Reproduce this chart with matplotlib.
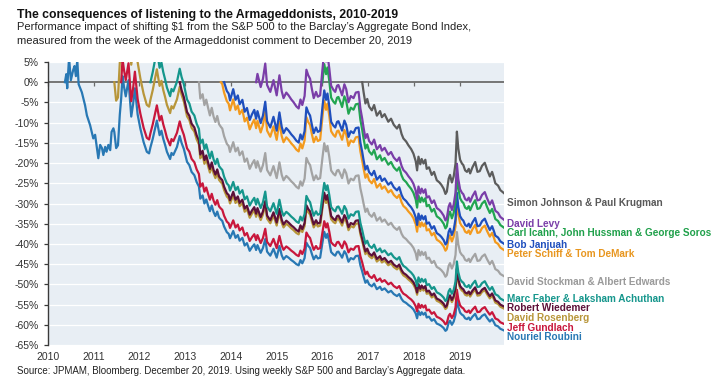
import numpy as np
import matplotlib
matplotlib.use("Agg")
import matplotlib.pyplot as plt

plt.rcParams['font.family'] = ['Liberation Sans', 'DejaVu Sans']

# Weekly-sampled dates (decimal years) and the Nouriel Roubini line (% impact since May 2010)
dates = [2010.37, 2010.40, 2010.42, 2010.46, 2010.50, 2010.55, 2010.58, 2010.61, 2010.64, 2010.67,
         2010.74, 2010.81, 2010.85, 2010.92, 2010.99, 2011.03, 2011.07, 2011.10, 2011.14, 2011.18,
         2011.21, 2011.25, 2011.28, 2011.32, 2011.36, 2011.39, 2011.43, 2011.45, 2011.49, 2011.53,
         2011.57, 2011.60, 2011.63, 2011.66, 2011.70, 2011.76, 2011.82, 2011.86, 2011.90, 2011.96,
         2012.02, 2012.09, 2012.16, 2012.21, 2012.24, 2012.29, 2012.33, 2012.38, 2012.44, 2012.48,
         2012.52, 2012.56, 2012.60, 2012.67, 2012.70, 2012.74, 2012.82, 2012.88, 2012.92, 2012.97,
         2013.04, 2013.09, 2013.14, 2013.20, 2013.25, 2013.30, 2013.33, 2013.38, 2013.42, 2013.46,
         2013.50, 2013.54, 2013.58, 2013.62, 2013.66, 2013.70, 2013.74, 2013.78, 2013.81, 2013.85,
         2013.91, 2013.95, 2013.98, 2014.05, 2014.10, 2014.15, 2014.19, 2014.25, 2014.30, 2014.35,
         2014.41, 2014.46, 2014.51, 2014.55, 2014.58, 2014.65, 2014.70, 2014.75, 2014.79, 2014.86,
         2014.93, 2015.00, 2015.06, 2015.11, 2015.15, 2015.21, 2015.26, 2015.32, 2015.37, 2015.43,
         2015.48, 2015.52, 2015.56, 2015.61, 2015.65, 2015.69, 2015.73, 2015.77, 2015.81, 2015.86,
         2015.90, 2015.95, 2016.00, 2016.04, 2016.08, 2016.11, 2016.15, 2016.19, 2016.24, 2016.28,
         2016.32, 2016.35, 2016.40, 2016.43, 2016.48, 2016.52, 2016.57, 2016.62, 2016.68, 2016.73,
         2016.79, 2016.83, 2016.87, 2016.90, 2016.94, 2016.98, 2017.02, 2017.08, 2017.13, 2017.19,
         2017.26, 2017.30, 2017.36, 2017.44, 2017.50, 2017.56, 2017.63, 2017.68, 2017.73, 2017.77,
         2017.83, 2017.88, 2017.94, 2017.99, 2018.04, 2018.07, 2018.10, 2018.14, 2018.17, 2018.21,
         2018.25, 2018.28, 2018.33, 2018.39, 2018.44, 2018.50, 2018.56, 2018.60, 2018.65, 2018.69,
         2018.72, 2018.76, 2018.79, 2018.83, 2018.87, 2018.91, 2018.94, 2018.97, 2019.01, 2019.05,
         2019.08, 2019.12, 2019.16, 2019.20, 2019.23, 2019.28, 2019.34, 2019.39, 2019.44, 2019.49,
         2019.55, 2019.60, 2019.66, 2019.71, 2019.75, 2019.78, 2019.84, 2019.89, 2019.93, 2019.97]

roubini = [0.0, 2.0, -1.5, 6.0, 0.5, 3.0, 4.0, 1.5, 5.5, -0.5,
           -2.5, -5.7, -8.2, -10.6, -13.9, -13.0, -16.3, -18.8, -15.5, -16.3,
           -18.0, -16.0, -17.2, -15.5, -16.8, -12.3, -11.4, -12.3, -16.3, -15.6,
           -8.0, -4.0, 1.5, -1.0, -3.5, 0.5, -8.5, -5.5, -1.5, -8.0,
           -11.5, -14.8, -17.2, -17.6, -16.1, -14.0, -12.0, -9.5, -13.1, -12.0,
           -14.0, -15.5, -17.2, -19.0, -17.5, -18.0, -16.0, -13.3, -15.0, -16.5,
           -19.7, -20.5, -22.2, -23.0, -24.7, -25.8, -28.8, -28.0, -30.0, -29.0,
           -30.5, -31.9, -30.5, -32.1, -33.1, -32.0, -33.5, -34.0, -34.3, -35.7,
           -37.1, -37.5, -38.6, -36.8, -38.5, -37.8, -39.2, -38.5, -40.4, -39.8,
           -41.7, -40.8, -40.1, -41.5, -40.3, -42.2, -41.0, -38.8, -41.9, -42.9,
           -41.2, -43.4, -40.5, -42.8, -43.8, -43.0, -43.4, -44.0, -44.4, -45.0,
           -45.3, -44.0, -44.8, -43.5, -39.7, -40.5, -41.0, -42.5, -43.8, -42.9,
           -43.6, -43.4, -39.7, -37.0, -38.5, -37.5, -39.5, -42.0, -42.6, -42.9,
           -42.0, -41.9, -42.8, -43.4, -41.8, -42.5, -44.4, -43.5, -43.8, -43.0,
           -42.9, -45.3, -46.8, -48.1, -49.6, -49.0, -50.0, -50.5, -49.8, -51.2,
           -50.6, -51.4, -51.0, -52.0, -51.6, -52.4, -52.9, -52.4, -53.6, -54.2,
           -54.6, -55.1, -55.6, -56.2, -57.2, -58.4, -56.6, -57.6, -56.9, -57.5,
           -57.0, -58.2, -58.0, -59.0, -58.6, -59.7, -60.0, -60.3, -60.8, -61.5,
           -61.2, -59.5, -59.0, -60.0, -59.2, -57.5, -53.3, -55.5, -57.0, -57.5,
           -57.7, -58.4, -58.6, -58.2, -58.8, -58.0, -57.3, -58.6, -58.5, -57.8,
           -57.4, -58.3, -59.2, -58.6, -59.4, -60.1, -60.4, -61.0, -61.2, -61.4]

# Each Armageddonist and the week of the comment (decimal year)
names = ["Nouriel Roubini", "Jeff Gundlach", "David Rosenberg", "Robert Wiedemer",
         "Marc Faber & Laksham Achuthan", "David Stockman & Albert Edwards",
         "Peter Schiff & Tom DeMark", "Bob Janjuah", "Carl Icahn, John Hussman & George Soros",
         "David Levy", "Simon Johnson & Paul Krugman"]
comment_dates = [2010.37, 2011.60, 2011.45, 2012.88, 2012.24, 2013.30,
                 2013.78, 2013.85, 2016.00, 2014.55, 2016.87]
line_colors = ["#2878b4", "#c8173c", "#b8963a", "#5c1038", "#15968c", "#a3a3a3",
               "#f39a1e", "#1f4fbd", "#22a551", "#7a3ea8", "#5c5c5c"]
label_colors = ["#2878b4", "#c8173c", "#b8963a", "#5c1038", "#15968c", "#9a9a9a",
                "#e8961f", "#1f4fbd", "#1fa04a", "#7a3ea8", "#595959"]
label_y = [-63.1, -60.9, -58.2, -55.8, -53.5, -49.4, -42.5, -40.3, -37.2, -34.95, -29.85]

y_ticks = list(range(-65, 10, 5))
x_ticks = list(range(2010, 2020))

W, H = 727, 380
fig = plt.figure(figsize=(W / 100, H / 100), dpi=100)
ax = fig.add_axes([48 / W, 1 - 345 / H, (504 - 48) / W, (345 - 62) / H])
ax.set_facecolor("#e8eef4")
ax.set_xlim(2010, 2019.97)
ax.set_ylim(-65, 5)

for yv in y_ticks:
    ax.axhline(yv, color="white", lw=0.9, zorder=0)
ax.axhline(0, color="#6a6a6a", lw=1.3, zorder=1)

d = np.array(dates)
base = 1 + np.array(roubini) / 100.0
for i in range(len(names)):
    s = comment_dates[i]
    m = d >= s - 1e-9
    b0 = np.interp(s, d, base)
    vals = (base[m] / b0 - 1) * 100
    ax.plot(d[m], vals, color=line_colors[i], lw=1.6, zorder=2 + i,
            solid_joinstyle="round")

for i in range(len(names)):
    ax.text(2020.03, label_y[i], names[i], color=label_colors[i], fontsize=7.2,
            fontweight="bold", va="center", ha="left", clip_on=False)

for sp in ["top", "right", "bottom"]:
    ax.spines[sp].set_visible(False)
ax.spines["left"].set_color("#3a3a3a")
ax.spines["left"].set_linewidth(1.0)

ax.set_yticks(y_ticks)
ax.set_yticklabels([f"{v}%" for v in y_ticks])
ax.tick_params(axis="y", direction="out", length=3, width=0.9, color="#3a3a3a",
               labelsize=7.5, labelcolor="#333333", pad=3.5)
ax.set_xticks(x_ticks)
ax.set_xticklabels([str(v) for v in x_ticks])
ax.tick_params(axis="x", length=0, labelsize=7.5, labelcolor="#333333", pad=5)

sec = ax.secondary_xaxis(65 / 70)
sec.set_xticks(x_ticks)
sec.tick_params(direction="in", length=3, width=0.9, color="#6a6a6a",
                labeltop=False, labelbottom=False)
for sp in sec.spines.values():
    sp.set_visible(False)

fig.text(17 / W, 1 - 15 / H, "The consequences of listening to the Armageddonists, 2010-2019",
         fontsize=8.8, fontweight="bold", va="center", ha="left", color="#111111")
fig.text(17 / W, 1 - 27.5 / H,
         "Performance impact of shifting $1 from the S&P 500 to the Barclay\u2019s Aggregate Bond Index,",
         fontsize=8.0, va="center", ha="left", color="#222222")
fig.text(17 / W, 1 - 41 / H,
         "measured from the week of the Armageddonist comment to December 20, 2019",
         fontsize=8.0, va="center", ha="left", color="#222222")
fig.text(17 / W, 1 - 371 / H,
         "Source: JPMAM, Bloomberg. December 20, 2019. Using weekly S&P 500 and Barclay\u2019s Aggregate data.",
         fontsize=7.05, va="center", ha="left", color="#222222")

fig.savefig("out.png", dpi=100)
